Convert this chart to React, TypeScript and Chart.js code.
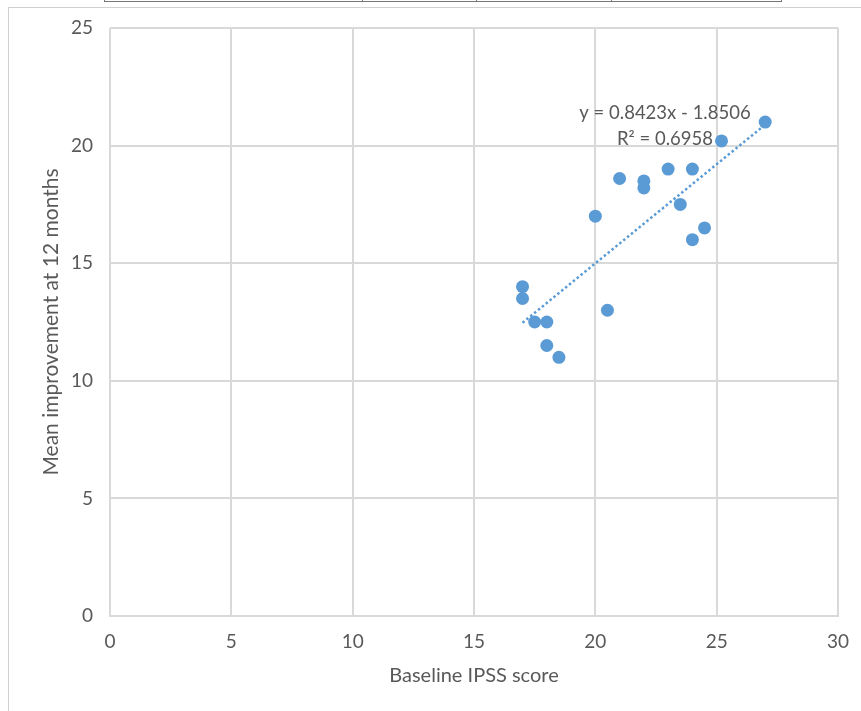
import React, { useEffect, useRef } from "react";
import { Chart, registerables } from "chart.js";

Chart.register(...registerables);

// Baseline IPSS score (x) and mean improvement at 12 months (y)
const baselineIPSS: number[] = [17, 17, 17.5, 18, 18, 18.5, 20, 20.5, 21, 22, 22, 23, 23.5, 24, 24, 24.5, 25.2, 27];
const meanImprovement: number[] = [14, 13.5, 12.5, 12.5, 11.5, 11, 17, 13, 18.6, 18.5, 18.2, 19, 17.5, 19, 16, 16.5, 20.2, 21];

// Linear trendline as displayed on the chart
const trendSlope = 0.8423;
const trendIntercept = -1.8506;
const trendLabelLines: string[] = ["y = 0.8423x - 1.8506", "R\u00B2 = 0.6958"];
const trendLabelAnchor = { x: 22.87, y: 21.4 };

const xTicks: number[] = [0, 5, 10, 15, 20, 25, 30];
const yTicks: number[] = [0, 5, 10, 15, 20, 25];

const BLUE = "#5B9BD5";
const GRID = "#d9d9d9";
const TEXT = "#595959";
const FONT = "Lato, 'Open Sans', sans-serif";

export default function App() {
  const canvasRef = useRef<HTMLCanvasElement | null>(null);

  useEffect(() => {
    if (!canvasRef.current) return;
    const xMin = Math.min(...baselineIPSS);
    const xMax = Math.max(...baselineIPSS);
    const trendData = [xMin, xMax].map((x) => ({ x, y: trendSlope * x + trendIntercept }));
    const points = baselineIPSS.map((x, i) => ({ x, y: meanImprovement[i] }));

    const labelPlugin = {
      id: "trendLabel",
      afterDatasetsDraw(chart: any) {
        const { ctx, scales } = chart;
        const px = scales.x.getPixelForValue(trendLabelAnchor.x);
        const py = scales.y.getPixelForValue(trendLabelAnchor.y);
        ctx.save();
        ctx.font = `18.5px ${FONT}`;
        ctx.fillStyle = TEXT;
        ctx.textAlign = "center";
        ctx.textBaseline = "middle";
        trendLabelLines.forEach((line, i) => ctx.fillText(line, px, py + i * 26));
        ctx.restore();
      },
    };

    const chart = new Chart(canvasRef.current, {
      type: "scatter",
      data: {
        datasets: [
          {
            label: "Mean improvement",
            data: points,
            backgroundColor: BLUE,
            borderColor: BLUE,
            pointRadius: 6.5,
            pointHoverRadius: 6.5,
            borderWidth: 0,
          },
          {
            type: "line",
            label: "Trend",
            data: trendData,
            borderColor: BLUE,
            borderWidth: 2.5,
            borderDash: [2.5, 2.5],
            pointRadius: 0,
            fill: false,
            showLine: true,
          } as any,
        ],
      },
      options: {
        responsive: false,
        animation: false,
        layout: { padding: { top: 28, right: 23, left: 0, bottom: 0 } },
        plugins: { legend: { display: false }, tooltip: { enabled: false } },
        scales: {
          x: {
            type: "linear",
            min: 0,
            max: 30,
            afterBuildTicks: (s: any) => {
              s.ticks = xTicks.map((v) => ({ value: v }));
            },
            afterFit: (s: any) => {
              s.height = 95;
              s.paddingLeft = 0;
              s.paddingRight = 0;
            },
            grid: { color: GRID, lineWidth: 2, drawTicks: false },
            border: { color: GRID, width: 2 },
            ticks: { color: TEXT, font: { family: FONT, size: 19 }, padding: 14, maxRotation: 0 },
            title: {
              display: true,
              text: "Baseline IPSS score",
              color: TEXT,
              font: { family: FONT, size: 20 },
              padding: { top: 0, bottom: 23 },
            },
          },
          y: {
            type: "linear",
            min: 0,
            max: 25,
            afterBuildTicks: (s: any) => {
              s.ticks = yTicks.map((v) => ({ value: v }));
            },
            afterFit: (s: any) => {
              s.width = 110;
              s.paddingTop = 0;
              s.paddingBottom = 0;
            },
            grid: { color: GRID, lineWidth: 2, drawTicks: false },
            border: { display: false },
            ticks: { color: TEXT, font: { family: FONT, size: 19 }, padding: 17 },
            title: {
              display: true,
              text: "Mean improvement at 12 months",
              color: TEXT,
              font: { family: FONT, size: 21 },
              padding: { top: 39, bottom: 0 },
            },
          },
        },
      },
      plugins: [labelPlugin],
    });
    return () => chart.destroy();
  }, []);

  return (
    <div style={{ position: "fixed", left: 0, top: 0, width: 861, height: 711, background: "#fff", overflow: "hidden" }}>
      {/* fragment of a table above the chart */}
      <div style={{ position: "absolute", left: 104, top: -10, width: 676, height: 11, borderBottom: "1px solid #777", borderLeft: "1px solid #777", borderRight: "1px solid #777" }} />
      {[362, 476, 611].map((x) => (
        <div key={x} style={{ position: "absolute", left: x, top: 0, width: 1, height: 2, background: "#777" }} />
      ))}
      {/* chart frame */}
      <div style={{ position: "absolute", left: 8, top: 7, width: 900, height: 800, borderLeft: "1px solid #d0d0d0", borderTop: "1px solid #d0d0d0" }} />
      <canvas ref={canvasRef} width={861} height={711} style={{ position: "absolute", left: 0, top: 0 }} />
    </div>
  );
}
